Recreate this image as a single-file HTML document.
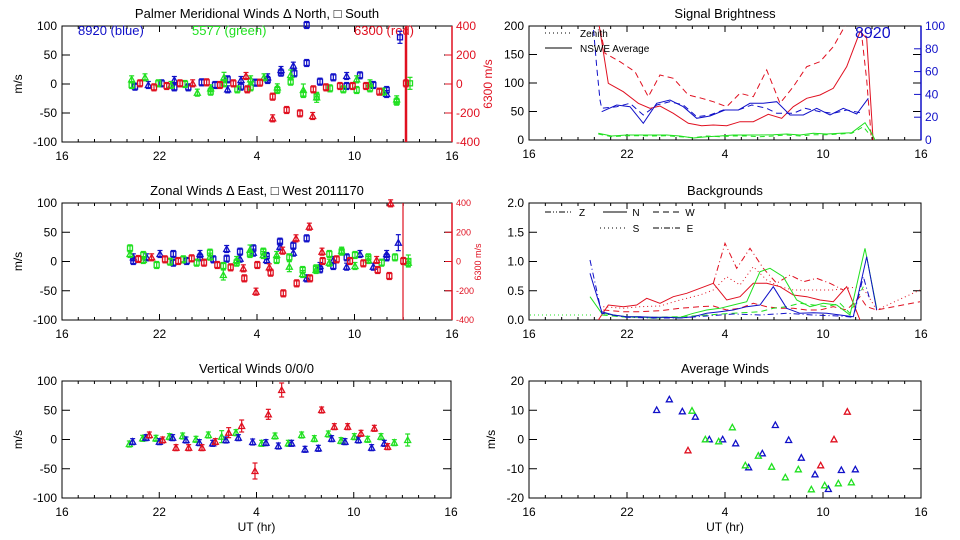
<!DOCTYPE html>
<html><head><meta charset="utf-8"><style>
html,body{margin:0;padding:0;background:#fff;width:960px;height:540px;overflow:hidden}
svg{display:block}
text{font-family:"Liberation Sans",sans-serif}
</style></head><body>
<svg id="s" width="960" height="540" xmlns="http://www.w3.org/2000/svg"></svg>
<script>
const S=document.getElementById('s');let h='';
const R='#e01020',B='#1010c8',G='#20e020';
function T(x,y,t,o){o=o||{};h+=`<text x="${x}" y="${y}" font-size="${o.fs||12}" fill="${o.c||'#000'}" text-anchor="${o.a||'middle'}"${o.tr?` transform="${o.tr}"`:''}>${t}</text>`;}
function L(x1,y1,x2,y2,c,w,d){h+=`<line x1="${x1}" y1="${y1}" x2="${x2}" y2="${y2}" stroke="${c||'#000'}" stroke-width="${w||1}"${d?` stroke-dasharray="${d}"`:''}/>`;}
function P(pts,c,d,w){h+=`<polyline fill="none" stroke="${c}" stroke-width="${w||1}"${d?` stroke-dasharray="${d}"`:''} points="${pts.map(p=>p.join(',')).join(' ')}"/>`;}
function panel(x0,x1,y0,y1,title,ylabels,xl,ml){
 h+=`<rect x="${x0}" y="${y0}" width="${x1-x0}" height="${y1-y0}" fill="none" stroke="#000" stroke-width="1"/>`;
 const dx=(x1-x0)/24;
 for(let i=1;i<24;i++){const x=x0+i*dx;const len=(i%6==0)?6:3;L(x,y1,x,y1-len);L(x,y0,x,y0+len);}
 ['16','22','4','10','16'].forEach((t,i)=>T(x0+i*6*dx,y1+18,t));
 const n=ylabels.length;
 ylabels.forEach((t,i)=>{const y=y0+i*(y1-y0)/(n-1);if(i>0&&i<n-1){L(x0,y,x0+8,y);L(x1,y,x1-8,y);}T(x0-5,y+4,t,{a:'end'});});
 T((x0+x1)/2,y0-8,title,{fs:13});
 if(ml!==false){const mx=x0-(ml||40);T(mx,(y0+y1)/2,'m/s',{tr:`rotate(-90 ${mx} ${(y0+y1)/2})`});}
 if(xl)T((x0+x1)/2,y1+33,'UT (hr)');
}
function tri(x,y,c){h+=`<polygon points="${x-3},${y+2.5} ${x+3},${y+2.5} ${x},${y-3}" fill="none" stroke="${c}" stroke-width="1.3"/>`;}
function sq(x,y,c){h+=`<rect x="${x-2.5}" y="${y-2.5}" width="5" height="5" fill="none" stroke="${c}" stroke-width="1.3"/>`;}
function pt(x,y,c,s,e){e=e||3.5;L(x,y-e,x,y+e,c,1.2);L(x-2.5,y-e,x+2.5,y-e,c,1.2);L(x-2.5,y+e,x+2.5,y+e,c,1.2);(s=='t'?tri:sq)(x,y,c);}
function plotPts(arr,c,off,ox){arr.forEach(p=>pt(ox+p[0]/3,off+p[1]/3,c,p[2]||'t',p[3]));}

// ---------- top-left
panel(62,452,26,142,'Palmer Meridional Winds &#916; North, &#9633; South',['100','50','0','-50','-100']);
L(452,26,452,142,R,1.5);
['400','200','0','-200','-400'].forEach((t,i)=>{const y=26+i*29;if(i>0&&i<4)L(445,y,452,y,R);T(456,y+4,t,{a:'start',c:R});});
T(492,84,'6300 m/s',{c:R,tr:'rotate(-90 492 84)'});
T(78,35,'8920 (blue)',{c:B,a:'start',fs:13});T(192,35,'5577 (green)',{c:G,a:'start',fs:13});T(354,35,'6300 (red)',{c:R,a:'start',fs:13});
plotPts([[405,260,'s'],[445,255,'t'],[485,250,'s'],[523,240,'t'],[523,262,'s'],[565,262,'s'],[605,247,'s'],[645,255,'s'],[683,238,'s'],[683,268,'t'],[723,240,'t'],[723,260,'s'],[765,248,'s'],[803,240,'s'],[803,232,'t'],[843,210,'t'],[843,218,'s'],[880,197,'t'],[883,220,'s'],[920,189,'s'],[920,75,'s'],[960,245,'s'],[1000,232,'s'],[1040,228,'t'],[1040,258,'s'],[1080,226,'s'],[1120,255,'s'],[1160,282,'t'],[1160,270,'s'],[1200,112,'s',6]],B,0,0);
plotPts([[395,238,'t'],[395,255,'s'],[435,232,'t'],[475,250,'s'],[513,255,'t'],[555,252,'s'],[592,278,'t'],[632,265,'t'],[632,275,'s'],[672,232,'t',5],[672,250,'s'],[712,268,'s'],[752,238,'t'],[752,262,'s'],[792,232,'t'],[832,262,'t'],[832,270,'s'],[872,225,'t',5],[872,245,'s'],[910,270,'t',6],[910,282,'s'],[950,292,'t',5],[950,290,'s'],[990,265,'s'],[1030,268,'s'],[1070,238,'t'],[1070,270,'s'],[1110,250,'t'],[1110,265,'s'],[1150,275,'t'],[1190,298,'t'],[1190,305,'s'],[1230,250,'s',6]],G,0,0);
plotPts([[420,250,'s'],[462,262,'s'],[500,258,'s'],[540,250,'s'],[578,250,'t'],[620,247,'s'],[660,255,'s'],[700,250,'s'],[738,228,'t'],[742,268,'s'],[780,248,'s'],[818,355,'t'],[818,290,'s'],[860,330,'s'],[900,340,'s'],[938,348,'t'],[940,268,'s'],[978,262,'s'],[1020,258,'s'],[1058,258,'s'],[1098,258,'s'],[1138,275,'s'],[1218,250,'s']],R,0,0);
L(406,26,406,142,R,2.5);

// ---------- mid-left
panel(62,452,203,320,'Zonal Winds &#916; East, &#9633; West 2011170',['100','50','0','-50','-100']);
L(452,203,452,320,R,1.5);
['400','200','0','-200','-400'].forEach((t,i)=>{const y=203+i*29.25;if(i>0&&i<4)L(445,y,452,y,R);T(456,y+3,t,{a:'start',c:R,fs:9});});
T(481,262,'6300 m/s',{c:R,fs:9,tr:'rotate(-90 481 262)'});
plotPts([[400,232,'t'],[400,243,'s'],[440,232,'t'],[480,222,'t'],[520,222,'s'],[520,248,'s'],[560,243,'s'],[600,222,'t'],[600,232,'s'],[640,238,'s'],[680,207,'t'],[680,236,'s'],[720,215,'s'],[720,236,'t'],[760,205,'s'],[760,218,'t'],[800,228,'s'],[800,240,'t'],[840,185,'s'],[840,200,'t'],[880,197,'s'],[880,218,'t'],[920,175,'s'],[920,295,'t'],[960,268,'s'],[960,258,'t'],[1000,258,'s'],[1000,240,'t'],[1040,232,'s'],[1040,260,'t'],[1080,222,'t'],[1120,260,'t'],[1160,232,'s'],[1160,222,'t'],[1195,188,'t',8]],B,180,0);
plotPts([[390,205,'s'],[390,222,'t'],[430,225,'s'],[430,240,'t'],[470,255,'s'],[510,245,'s'],[550,238,'s'],[590,248,'s'],[630,218,'s'],[630,230,'t'],[670,258,'s'],[670,285,'t',5],[710,248,'s'],[710,240,'t'],[750,210,'t',5],[750,222,'s'],[790,215,'s'],[790,225,'t'],[830,240,'s'],[830,225,'t'],[868,232,'s'],[868,260,'t',5],[908,270,'s'],[908,282,'t'],[948,265,'s'],[948,270,'t'],[988,222,'s'],[988,248,'t'],[1025,215,'s'],[1025,212,'t'],[1065,225,'s'],[1065,258,'t'],[1105,232,'s'],[1105,240,'t'],[1145,248,'s'],[1185,232,'s'],[1225,243,'s',6],[1225,248,'t']],G,180,0);
plotPts([[415,237,'s'],[455,232,'t'],[495,238,'s'],[535,243,'s'],[575,235,'s'],[612,248,'s'],[652,255,'s'],[692,262,'s'],[730,265,'t'],[733,295,'s'],[772,255,'s'],[768,335,'t'],[808,262,'t'],[812,278,'s'],[850,340,'s'],[848,212,'t'],[890,310,'s'],[888,175,'t'],[930,295,'s'],[928,140,'t'],[968,243,'s'],[966,215,'t'],[1010,238,'s'],[1050,243,'s'],[1090,250,'s'],[1130,240,'t'],[1133,270,'s'],[1168,288,'s'],[1172,70,'t'],[1210,243,'s']],R,180,0);
L(403,203,403,320,R,1.2);

// ---------- bottom-left
panel(62,451,381,498,'Vertical Winds 0/0/0',['100','50','0','-50','-100'],true);
[[388,252],[428,235],[468,235],[508,230],[548,228],[588,238],[625,225],[665,230,6],[708,218],[785,250],[825,228],[865,250],[905,225],[943,236],[985,222],[1023,242],[1063,230],[1103,238],[1143,230],[1183,248],[1223,240,6]].forEach(p=>pt(p[0]/3,360+p[1]/3,G,'t',p[2]||3));
[[398,245],[438,233],[478,245],[518,233],[558,240],[598,248],[638,250],[678,240],[715,233],[758,246],[798,248],[835,258],[875,250],[915,268],[955,265],[995,236],[1035,245],[1075,240],[1115,263],[1153,250]].forEach(p=>pt(p[0]/3,360+p[1]/3,B,'t',3));
[[448,225],[488,240],[528,263],[566,263],[606,263],[646,245],[686,218,5],[725,198,6],[765,333,8],[805,163,5],[845,90,7],[965,150],[1003,200],[1043,200],[1083,220],[1123,205],[1163,260]].forEach(p=>pt(p[0]/3,360+p[1]/3,R,'t',p[2]||3));

// ---------- right panels
function Z(arr,off){return arr.map(p=>[(480+p[0]/3).toFixed(1),(off+p[1]/3).toFixed(1)]);}
panel(529,921,26,140,'Signal Brightness',['200','150','100','50','0'],false,false);
L(921,26,921,140,B,1.5);
['100','80','60','40','20','0'].forEach((t,i)=>{const y=26+i*22.8;if(i>0&&i<5)L(914,y,921,y,B);T(925,y+4,t,{a:'start',c:B});});
h+='<clipPath id="c1"><rect x="529" y="26" width="392" height="114"/></clipPath><g clip-path="url(#c1)">';
P(Z([[355,60],[385,250],[430,275],[475,310],[510,325],[540,318],[580,340],[625,370],[665,377],[700,375],[740,377],[780,365],[820,365],[865,343],[905,355],[940,320],[980,295],[1020,285],[1060,265],[1100,200],[1140,95],[1160,115],[1180,430]],0),R);
P(Z([[355,60],[375,160],[420,185],[465,215],[505,290],[540,225],[580,235],[625,285],[665,295],[700,305],[740,320],[780,280],[820,290],[860,210],[900,310],[940,260],[980,200],[1020,185],[1060,140],[1105,60]],0),R,'6,4');
P(Z([[1140,60],[1160,240],[1175,430]],0),R,'6,4');
P(Z([[365,335],[410,315],[450,320],[490,370],[530,310],[570,300],[610,320],[650,355],[690,348],[735,330],[775,330],[810,310],[850,310],[890,305],[930,345],[970,345],[1010,325],[1050,345],[1090,325],[1130,342],[1165,295]],0),B);
P(Z([[338,60],[350,200],[360,300],[365,325],[410,320],[450,310],[490,345],[530,315],[570,305],[610,315],[650,350],[690,345],[730,330],[775,330],[815,315],[860,325],[890,340],[940,340],[975,325],[1020,335],[1060,340],[1100,330],[1150,340]],0),B,'6,4');
P(Z([[355,400],[395,408],[440,405],[480,405],[520,405],[560,405],[600,408],[640,414],[680,410],[720,408],[760,405],[800,405],[840,405],[880,404],[920,402],[960,405],[1000,400],[1040,402],[1080,400],[1115,398],[1155,368],[1175,400],[1190,430]],0),G);
P(Z([[355,402],[395,410],[440,407],[480,407],[520,408],[560,407],[600,410],[640,413],[680,408],[720,410],[760,408],[800,408],[840,410],[880,408],[920,405],[960,408],[1000,404],[1040,404],[1080,402],[1115,400],[1150,380],[1170,405]],0),G,'5,4');
h+='</g>';
L(545,33,572,33,'#000',1,'1,3');T(580,37,'Zenith',{a:'start',fs:10});
L(545,48,572,48);T(580,52,'NSWE Average',{a:'start',fs:10});
T(855,38,'8920',{c:B,a:'start',fs:16});

panel(529,921,203,320,'Backgrounds',['2.0','1.5','1.0','0.5','0.0'],false,false);
h+='<clipPath id="c2"><rect x="529" y="203" width="392" height="117"/></clipPath><g clip-path="url(#c2)">';
P(Z([[150,405],[340,405]],180),G,'1,3');
P(Z([[355,420],[385,375],[430,380],[470,375],[500,355],[540,370],[580,350],[620,340],[660,325],[700,310],[740,360],[780,350],[820,310],[860,310],[900,320],[940,345],[980,350],[1020,360],[1060,365],[1100,320],[1140,420]],180),R);
P(Z([[700,310],[735,190],[770,265],[810,205],[850,265],[890,310],[930,285],[970,305],[1010,295],[1050,310],[1090,330]],180),R,'6,3,1,3');
P(Z([[370,380],[430,385],[480,380],[540,378],[600,360],[660,345],[700,330],[740,290],[780,315],[820,260],[860,300],[900,320],[940,330],[980,330],[1020,330],[1060,330],[1100,325],[1140,320],[1160,340],[1190,390],[1320,330]],180),R,'1,3');
P(Z([[370,390],[430,395],[480,395],[540,392],[600,385],[660,380],[700,378],[740,390],[780,385],[820,370],[860,380],[900,385],[940,385],[980,390],[1020,390],[1060,380],[1100,390],[1140,350],[1160,380],[1190,390],[1320,365]],180),R,'6,4');
P(Z([[330,350],[365,400],[400,405],[440,410],[480,410],[520,415],[560,412],[600,412],[640,400],[680,390],[720,385],[760,375],[800,365],[840,275],[870,265],[910,290],[950,360],[990,380],[1030,370],[1070,375],[1110,405],[1155,205],[1190,385]],180),G);
P(Z([[365,405],[440,412],[520,412],[600,410],[680,405],[760,400],[840,395],[880,385],[920,380],[960,370],[1000,375],[1040,380],[1080,370],[1110,400],[1150,320]],180),G,'6,4');
P(Z([[330,280],[365,395],[400,405],[440,410],[480,410],[520,412],[560,412],[600,414],[640,410],[680,400],[720,395],[760,390],[800,380],[840,375],[880,320],[920,385],[960,400],[1000,398],[1040,400],[1080,405],[1120,410],[1160,230],[1190,390]],180),B);
P(Z([[330,240],[365,400],[440,412],[520,414],[600,414],[680,408],[760,402],[840,405],[920,400],[1000,405],[1080,408],[1120,412],[1150,290],[1170,360]],180),B,'6,3,1,3');
h+='</g>';
L(545,212,572,212,'#000',1,'6,2,1,2,1,2');T(582,216,'Z',{fs:10});
L(603,212,627,212);T(636,216,'N',{fs:10});
L(653,212,680,212,'#000',1,'6,4');T(690,216,'W',{fs:10});
L(600,228,627,228,'#000',1,'1,3');T(636,232,'S',{fs:10});
L(653,228,680,228,'#000',1,'6,2,1,2');T(690,232,'E',{fs:10});

panel(529,921,381,498,'Average Winds',['20','10','0','-10','-20'],true,34);
[[530,150],[568,118],[607,154],[646,170],[688,238],[728,238],[767,250],[806,322],[847,280],[886,195],[926,240],[964,293],[1005,343],[1045,387],[1084,330],[1126,328]].forEach(p=>tri(480+p[0]/3,360+p[1]/3,B));
[[636,152],[676,238],[716,244],[757,202],[796,316],[835,287],[875,320],[916,352],[955,328],[994,388],[1034,376],[1075,370],[1114,367]].forEach(p=>tri(480+p[0]/3,360+p[1]/3,G));
[[624,271],[1062,238],[1022,316],[1102,155]].forEach(p=>tri(480+p[0]/3,360+p[1]/3,R));
S.innerHTML=h;
</script>
</body></html>
